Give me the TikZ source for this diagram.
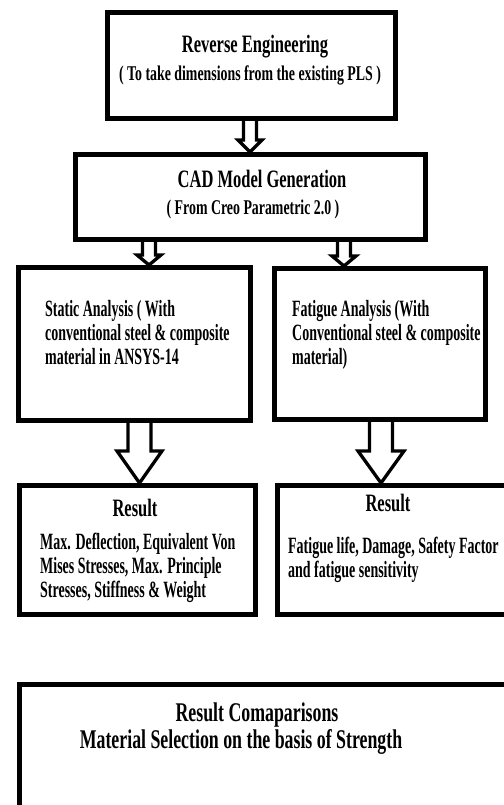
\documentclass[tikz,border=0pt]{standalone}
\usepackage{fontspec}
\setmainfont{Liberation Serif}
\newfontfamily\headfont[FakeStretch=0.66]{Liberation Serif}
\newfontfamily\bodyfont[FakeStretch=0.6]{Liberation Serif}
\usetikzlibrary{calc,positioning}

% hollow block arrow: start, tip, half shaft, half head, head length
\newcommand{\blockarrow}[5]{%
  \draw[arrowline] ($(#1)+(-#3,0)$) -- ($(#2)+(-#3,-#5)$) -- ($(#2)+(-#4,-#5)$)
    -- (#2) -- ($(#2)+(#4,-#5)$) -- ($(#2)+(#3,-#5)$) -- ($(#1)+(#3,0)$);}

\begin{document}
\begin{tikzpicture}[x=1pt, y=-1pt]
    % Define styles
    \tikzset{
        stagebox/.style={draw, line width=5pt, inner sep=0pt},
        headtext/.style={font=\headfont\bfseries\fontsize{25}{23}\selectfont, inner sep=0pt},
        subtext/.style={font=\headfont\bfseries\fontsize{21}{24}\selectfont, inner sep=0pt},
        bodytext/.style={font=\bodyfont\bfseries\fontsize{23.3}{24}\selectfont, inner sep=0pt, align=left},
        bigtext/.style={font=\headfont\bfseries\fontsize{27}{23}\selectfont, inner sep=0pt},
        arrowline/.style={line width=3.3pt, line join=miter}
    }
    \path[use as bounding box, fill=white] (0,0) rectangle (503,805);

    % Boxes
    \node[stagebox, minimum width=288pt, minimum height=106pt] (revbox) at (251.5,65.5) {};
    \node[stagebox, minimum width=350pt, minimum height=85pt] (cadbox) at (250.5,197) {};
    \node[stagebox, minimum width=232pt, minimum height=153pt] (staticbox) at (134.5,344) {};
    \node[stagebox, minimum width=211pt, minimum height=151pt] (fatiguebox) at (380,344) {};
    \node[stagebox, minimum width=236pt, minimum height=129pt] (staticres) at (137.5,550) {};
    \node[stagebox, minimum width=233pt, minimum height=129pt] (fatigueres) at (394,550) {};
    \node[stagebox, minimum width=496pt, minimum height=136pt] (compbox) at (267.5,752) {};

    % Texts (base = last line)
    \node[headtext, anchor=base] (revtitle) at (255,53) {Reverse Engineering};
    \node[subtext, anchor=base] (revsub) at (250,81) {( To take dimensions from the existing PLS )};
    \node[headtext, anchor=base] (cadtitle) at (262,187) {CAD Model Generation};
    \node[subtext, anchor=base] (cadsub) at (253,214) {( From Creo Parametric 2.0 )};
    \node[bodytext, anchor=base west] (statictext) at (45,364)
        {Static Analysis ( With\\conventional steel \& composite\\material in ANSYS-14};
    \node[bodytext, anchor=base west] (fatiguetext) at (292,364)
        {Fatigue Analysis (With\\Conventional steel \& composite\\material)};
    \node[headtext, anchor=base] (srestitle) at (135,516) {Result};
    \node[bodytext, anchor=base west] (srestext) at (40,597)
        {Max. Deflection, Equivalent Von\\Mises Stresses, Max. Principle\\Stresses, Stiffness \& Weight};
    \node[headtext, anchor=base] (frestitle) at (388,511) {Result};
    \node[bodytext, anchor=base west] (frestext) at (288,577)
        {Fatigue life, Damage, Safety Factor\\and fatigue sensitivity};
    \node[bigtext, anchor=base] (comptitle) at (257,721) {Result Comaparisons};
    \node[bigtext, anchor=base] (compsub) at (241,748) {Material Selection on the basis of Strength};

    % Arrow ends
    \coordinate (a1s) at ([xshift=-1.5pt]revbox.south);
    \coordinate (a1e) at (a1s |- cadbox.north);
    \coordinate (a2s) at ([xshift=-101.5pt]cadbox.south);
    \coordinate (a2e) at (a2s |- staticbox.north);
    \coordinate (a3s) at ([xshift=93.5pt]cadbox.south);
    \coordinate (a3e) at (a3s |- fatiguebox.north);
    \coordinate (a4s) at ([xshift=5pt]staticbox.south);
    \coordinate (a4e) at (a4s |- staticres.north);
    \coordinate (a5s) at ([xshift=1pt]fatiguebox.south);
    \coordinate (a5e) at (a5s |- fatigueres.north);

    % Arrows
    \blockarrow{a1s}{a1e}{6.5}{12}{12}
    \blockarrow{a2s}{a2e}{6.5}{12}{10}
    \blockarrow{a3s}{a3e}{6.5}{12}{10}
    \blockarrow{a4s}{a4e}{11.5}{22.5}{32}
    \blockarrow{a5s}{a5e}{11.5}{23}{32}
\end{tikzpicture}
\end{document}
